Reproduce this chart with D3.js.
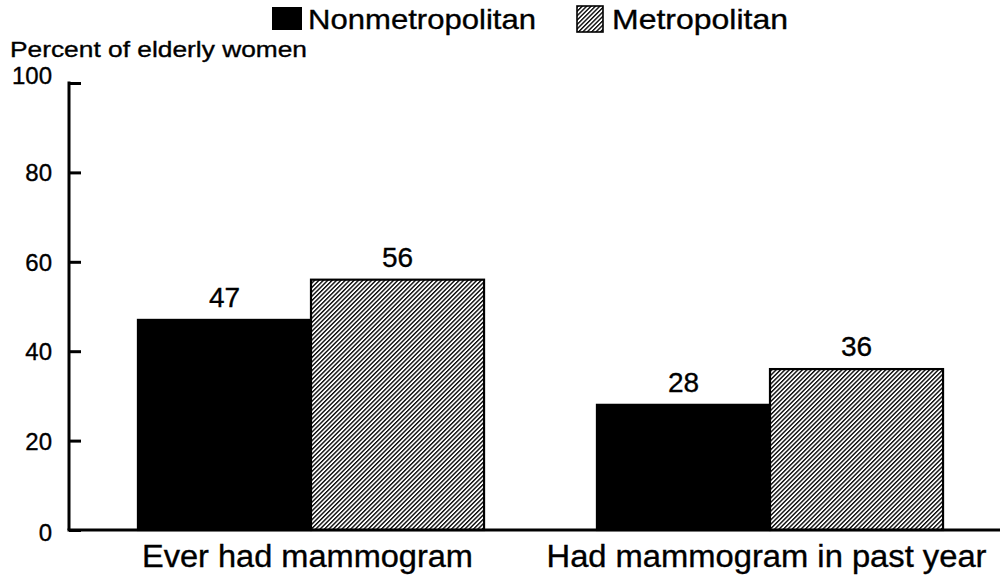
<!DOCTYPE html>
<html>
<head>
<meta charset="utf-8">
<script src="https://cdn.jsdelivr.net/npm/d3@7"></script>
<style>
  html, body { margin: 0; padding: 0; background: #fff; }
  svg { display: block; }
  text { font-family: "Liberation Sans", Arial, Helvetica, sans-serif; fill: #000; stroke: #000; stroke-width: 0.35px; }
</style>
</head>
<body>
<svg id="chart" width="1000" height="576"></svg>
<script>
// Mammography use among elderly women, by residence
const categories = ["Ever had mammogram", "Had mammogram in past year"];
const seriesNames = ["Nonmetropolitan", "Metropolitan"];
const nonmetroValues = [47, 28];
const metroValues = [56, 36];
const yTicks = [0, 20, 40, 60, 80, 100];
const yAxisTitle = "Percent of elderly women";

const svg = d3.select("#chart");
const W = 1000;
const axisX = 69;
const plotTop = 83, plotBottom = 530;

// Fine diagonal hatch for the metropolitan bars
const defs = svg.append("defs");
const hs = 3.1;
const pat = defs.append("pattern")
  .attr("id", "hatch")
  .attr("patternUnits", "userSpaceOnUse")
  .attr("width", hs).attr("height", hs)
  .attr("patternTransform", "rotate(45)");
pat.append("rect").attr("width", hs).attr("height", hs).attr("fill", "#fff");
pat.append("line").attr("x1", 0.7).attr("y1", -1).attr("x2", 0.7).attr("y2", hs + 1)
  .attr("stroke", "#000").attr("stroke-width", 1.35);

const y = d3.scaleLinear().domain([0, 100]).range([plotBottom, plotTop]);

const x0 = d3.scaleBand().domain(categories)
  .range([81.5, 999.5]).paddingInner(0.246).paddingOuter(0.123);
const x1 = d3.scaleBand().domain(seriesNames).range([0, x0.bandwidth()]);

const rows = categories.map((c, i) => ({
  cat: c,
  vals: [
    { key: seriesNames[0], v: nonmetroValues[i] },
    { key: seriesNames[1], v: metroValues[i] }
  ]
}));

const groups = svg.append("g").selectAll("g").data(rows).join("g")
  .attr("transform", d => `translate(${x0(d.cat)},0)`);

groups.selectAll("rect").data(d => d.vals).join("rect")
  .attr("x", d => x1(d.key))
  .attr("y", d => y(d.v))
  .attr("width", x1.bandwidth())
  .attr("height", d => y(0) - y(d.v))
  .attr("fill", d => d.key === seriesNames[0] ? "#000" : "url(#hatch)")
  .attr("stroke", "#000")
  .attr("stroke-width", 2.2);

groups.selectAll("text.val").data(d => d.vals).join("text")
  .attr("class", "val")
  .attr("x", d => x1(d.key) + x1.bandwidth() / 2)
  .attr("y", d => y(d.v) - 13)
  .attr("text-anchor", "middle")
  .attr("font-size", 28)
  .text(d => d.v);

// Y axis with inward ticks
const yAxis = d3.axisRight(y).tickValues(yTicks).tickSize(12).tickFormat("");
const ya = svg.append("g").attr("transform", `translate(${axisX},0)`).call(yAxis);
ya.select(".domain").remove();
ya.selectAll(".tick line").attr("stroke", "#000").attr("stroke-width", 3);
svg.append("line")
  .attr("x1", axisX).attr("x2", axisX)
  .attr("y1", y(100) - 1.5).attr("y2", y(0))
  .attr("stroke", "#000").attr("stroke-width", 3);

svg.append("g").selectAll("text").data(yTicks).join("text")
  .attr("x", 52)
  .attr("y", d => y(d) + 9 - (d === 100 ? 8 : 0) + (d === 0 ? 2 : 0))
  .attr("text-anchor", "end")
  .attr("font-size", 24)
  .text(d => d);

// Baseline
svg.append("line")
  .attr("x1", axisX - 1.5).attr("x2", W)
  .attr("y1", y(0)).attr("y2", y(0))
  .attr("stroke", "#000").attr("stroke-width", 3.2);

// Category labels
const catWidths = [331, 440];
svg.append("g").selectAll("text").data(categories).join("text")
  .attr("x", d => x0(d) + x0.bandwidth() / 2 - 3.5)
  .attr("y", 567)
  .attr("text-anchor", "middle")
  .attr("font-size", 31)
  .attr("textLength", (d, i) => catWidths[i])
  .attr("lengthAdjust", "spacingAndGlyphs")
  .text(d => d);

// Axis title
svg.append("text").attr("x", 10).attr("y", 57).attr("font-size", 22)
  .attr("textLength", 297).attr("lengthAdjust", "spacingAndGlyphs")
  .text(yAxisTitle);

// Legend
const legend = [
  { name: seriesNames[0], x: 272, y: 7, w: 30, h: 23, fill: "#000", sw: 0, tx: 308, tl: 228 },
  { name: seriesNames[1], x: 577, y: 6, w: 26, h: 26, fill: "url(#hatch)", sw: 1.6, tx: 612, tl: 176 }
];
const lg = svg.append("g").selectAll("g").data(legend).join("g");
lg.append("rect")
  .attr("x", d => d.x).attr("y", d => d.y)
  .attr("width", d => d.w).attr("height", d => d.h)
  .attr("fill", d => d.fill)
  .attr("stroke", "#000").attr("stroke-width", d => d.sw);
lg.append("text")
  .attr("x", d => d.tx).attr("y", 29)
  .attr("font-size", 28)
  .attr("textLength", d => d.tl)
  .attr("lengthAdjust", "spacingAndGlyphs")
  .text(d => d.name);
</script>
</body>
</html>
